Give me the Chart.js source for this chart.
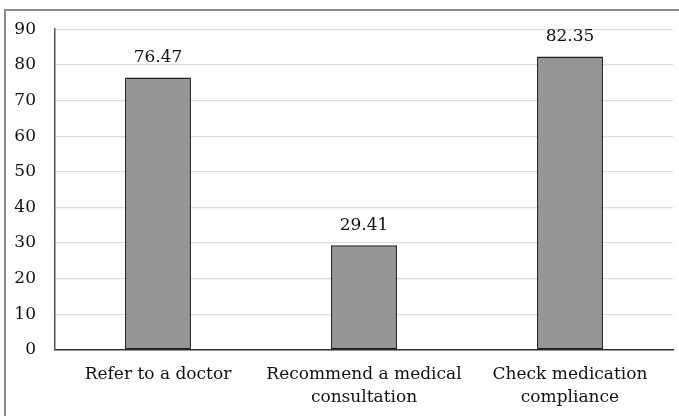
<!DOCTYPE html>
<html>
<head>
<meta charset="utf-8">
<script src="https://cdn.jsdelivr.net/npm/chart.js@4/dist/chart.umd.min.js"></script>
<style>
  html, body { margin: 0; padding: 0; background: #fff; }
  #wrap { width: 679px; height: 416px; position: relative; }
</style>
</head>
<body>
<div id="wrap"><canvas id="c" width="679" height="416"></canvas></div>
<script>
const categories = [
  'Refer to a doctor',
  ['Recommend a medical', 'consultation'],
  ['Check medication', 'compliance']
];
const percentages = [76.47, 29.41, 82.35];
const yTicks = [0, 10, 20, 30, 40, 50, 60, 70, 80, 90];

const FONT = '"DejaVu Serif", serif';

// Frame lines along the top and left edges of the figure
const framePlugin = {
  id: 'frame',
  beforeDraw(chart) {
    const ctx = chart.ctx;
    ctx.save();
    ctx.strokeStyle = '#8a8a8a';
    ctx.lineWidth = 2;
    ctx.beginPath();
    ctx.moveTo(5, 416);
    ctx.lineTo(5, 10);
    ctx.lineTo(679, 10);
    ctx.stroke();
    ctx.restore();
  }
};

// Value printed above each bar
const valueLabels = {
  id: 'valueLabels',
  afterDatasetsDraw(chart) {
    const ctx = chart.ctx;
    const meta = chart.getDatasetMeta(0);
    ctx.save();
    ctx.font = '17px ' + FONT;
    ctx.fillStyle = '#111';
    ctx.textAlign = 'center';
    ctx.textBaseline = 'bottom';
    meta.data.forEach((bar, i) => {
      ctx.fillText(percentages[i].toFixed(2), bar.x, bar.y - 11);
    });
    ctx.restore();
  }
};

new Chart(document.getElementById('c'), {
  type: 'bar',
  data: {
    labels: categories,
    datasets: [{
      data: percentages,
      backgroundColor: '#969696',
      borderColor: '#1c1c1c',
      borderWidth: 1.5,
      borderSkipped: false,
      categoryPercentage: 1,
      barPercentage: 0.32
    }]
  },
  options: {
    responsive: false,
    animation: false,
    layout: { padding: { top: 27, right: 6, left: 0, bottom: 0 } },
    plugins: { legend: { display: false }, tooltip: { enabled: false } },
    scales: {
      x: {
        grid: { display: false, drawTicks: false },
        border: { display: true, color: '#333', width: 1.5 },
        ticks: {
          color: '#111',
          font: { family: FONT, size: 17, lineHeight: 1.35 },
          padding: 13,
          maxRotation: 0,
          autoSkip: false
        },
        afterFit(scale) { scale.height = 66; }
      },
      y: {
        min: 0,
        max: 90,
        afterBuildTicks(scale) { scale.ticks = yTicks.map(v => ({ value: v })); },
        grid: { color: '#dcdcdc', lineWidth: 1.2, drawTicks: false },
        border: { display: true, color: '#555', width: 1.5 },
        ticks: {
          color: '#111',
          font: { family: FONT, size: 17 },
          padding: 19
        },
        afterFit(scale) { scale.width = 55; }
      }
    }
  },
  plugins: [framePlugin, valueLabels]
});
</script>
</body>
</html>
